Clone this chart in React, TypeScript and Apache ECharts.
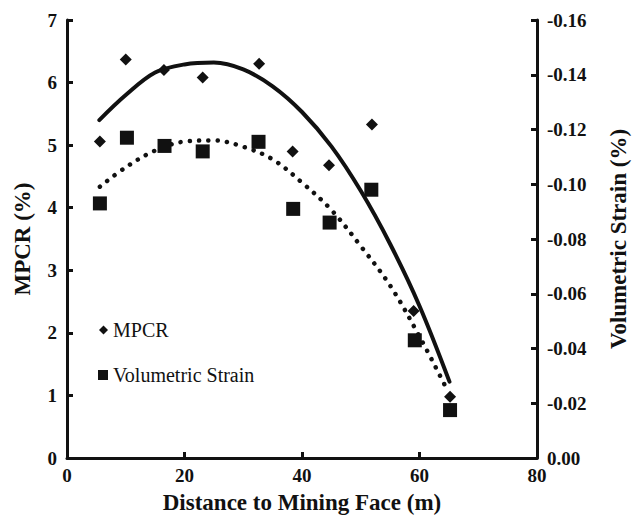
import React, { useEffect, useRef } from "react";
import * as echarts from "echarts";

const mpcrDistance = [5.6, 10.0, 16.5, 23.1, 32.7, 38.4, 44.6, 51.9, 59.0, 65.2];
const mpcrValues = [5.06, 6.37, 6.2, 6.08, 6.3, 4.9, 4.68, 5.33, 2.35, 0.98];
const strainDistance = [5.6, 10.2, 16.6, 23.1, 32.6, 38.5, 44.7, 51.8, 59.2, 65.2];
const strainValues = [-0.093, -0.117, -0.114, -0.112, -0.1155, -0.091, -0.086, -0.098, -0.043, -0.0175];

const mpcrTrendX = [5.5, 10, 15, 20, 25, 30, 35, 40, 45, 50, 55, 60, 65.1];
const mpcrTrendY = [5.4, 5.8, 6.16, 6.29, 6.32, 6.21, 5.94, 5.53, 4.98, 4.27, 3.42, 2.43, 1.22];
const strainTrendX = [5.6, 10, 15, 20, 25, 30, 35, 40, 45, 50, 55, 60, 64.4];
const strainTrendY = [-0.0991, -0.1062, -0.1123, -0.1156, -0.116, -0.1137, -0.1091, -0.1006, -0.0906, -0.0774, -0.063, -0.0444, -0.0262];

const FONT = "'Liberation Serif', 'Times New Roman', serif";
const INK = "#111";

export default function App() {
  const ref = useRef<HTMLDivElement>(null);
  useEffect(() => {
    if (!ref.current) return;
    const chart = echarts.init(ref.current, undefined, { renderer: "svg" });
    const axisCommon = {
      axisLine: { show: true, lineStyle: { color: INK, width: 3 } },
      axisTick: { show: true, inside: true, length: 6, lineStyle: { color: INK, width: 3 } },
      splitLine: { show: false },
      axisLabel: { color: INK, fontFamily: FONT, fontWeight: "bold", fontSize: 19 },
      nameTextStyle: { color: INK, fontFamily: FONT, fontWeight: "bold", fontSize: 23 },
    };
    chart.setOption({
      animation: false,
      backgroundColor: "#fff",
      grid: { left: 67, right: 100, top: 20, bottom: 62 },
      legend: [
        {
          data: ["MPCR"],
          left: 99,
          top: 320,
          padding: 0,
          icon: "diamond",
          itemWidth: 9,
          itemHeight: 9,
          itemStyle: { opacity: 1 },
          textStyle: { color: INK, fontFamily: FONT, fontSize: 20 },
        },
        {
          data: ["Volumetric Strain"],
          left: 98,
          top: 365,
          padding: 0,
          icon: "rect",
          itemWidth: 10,
          itemHeight: 10,
          itemStyle: { opacity: 1 },
          textStyle: { color: INK, fontFamily: FONT, fontSize: 20 },
        },
      ],
      xAxis: {
        type: "value",
        min: 0,
        max: 80,
        interval: 20,
        name: "Distance to Mining Face (m)",
        nameLocation: "middle",
        nameGap: 33,
        ...axisCommon,
        axisLabel: { ...axisCommon.axisLabel, margin: 8 },
      },
      yAxis: [
        {
          type: "value",
          min: 0,
          max: 7,
          interval: 1,
          name: "MPCR (%)",
          nameLocation: "middle",
          nameRotate: 90,
          nameGap: 33,
          position: "left",
          ...axisCommon,
          axisLabel: { ...axisCommon.axisLabel, margin: 10 },
        },
        {
          type: "value",
          min: -0.16,
          max: 0,
          interval: 0.02,
          inverse: true,
          name: "Volumetric Strain (%)",
          nameLocation: "middle",
          nameRotate: 90,
          nameGap: 70,
          position: "right",
          ...axisCommon,
          axisLabel: {
            ...axisCommon.axisLabel,
            margin: 10,
            formatter: (v: number) => v.toFixed(2),
          },
        },
      ],
      series: [
        {
          name: "MPCR trend",
          type: "line",
          yAxisIndex: 0,
          data: mpcrTrendX.map((x, i) => [x, mpcrTrendY[i]]),
          smooth: 0.35,
          showSymbol: false,
          symbol: "none",
          lineStyle: { color: INK, width: 4, cap: "round" },
          z: 2,
        },
        {
          name: "Strain trend",
          type: "line",
          yAxisIndex: 1,
          data: strainTrendX.map((x, i) => [x, strainTrendY[i]]),
          smooth: 0.35,
          showSymbol: false,
          symbol: "none",
          lineStyle: { color: INK, width: 4.5, type: [0.1, 9.2], cap: "round" },
          z: 2,
        },
        {
          name: "MPCR",
          type: "scatter",
          yAxisIndex: 0,
          symbol: "diamond",
          symbolSize: 12,
          itemStyle: { color: INK, opacity: 1 },
          data: mpcrDistance.map((x, i) => [x, mpcrValues[i]]),
          z: 3,
        },
        {
          name: "Volumetric Strain",
          type: "scatter",
          yAxisIndex: 1,
          symbol: "rect",
          symbolSize: 14,
          itemStyle: { color: INK, opacity: 1 },
          data: strainDistance.map((x, i) => [x, strainValues[i]]),
          z: 3,
        },
      ],
    });
    return () => chart.dispose();
  }, []);
  return (
    <div
      ref={ref}
      style={{ position: "absolute", left: 0, top: 0, width: 638, height: 520 }}
    />
  );
}
